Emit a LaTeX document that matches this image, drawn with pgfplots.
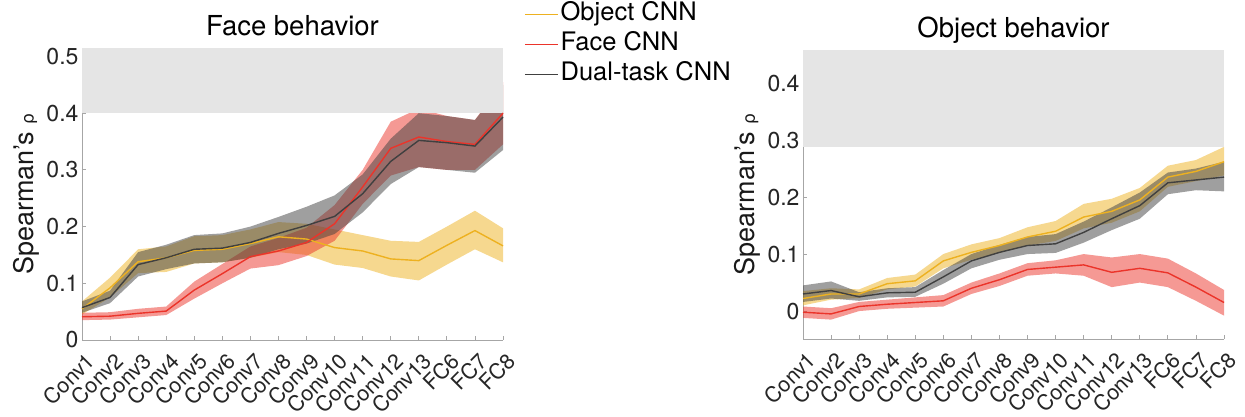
\documentclass[border=0pt]{standalone}
\usepackage{pgfplots}
\pgfplotsset{compat=1.18}
\usepackage{pgfplotstable}
\usepgfplotslibrary{fillbetween}
\usepackage{fontspec}
\setmainfont{TeX Gyre Heros}
\newfontfamily\dejavu{DejaVu Sans}

\definecolor{cObj}{RGB}{237,177,32}
\definecolor{cFace}{RGB}{235,52,42}
\definecolor{cDual}{RGB}{64,64,64}
\definecolor{cBand}{RGB}{229,229,229}

% x = layer index (Conv1 ... FC8); mean, lower and upper bound of each model
\pgfplotstableread{
x  om    olo   ohi   fm    flo   fhi   dm    dlo   dhi
0  0.055 0.045 0.068 0.041 0.035 0.048 0.057 0.048 0.068
1  0.092 0.075 0.110 0.042 0.036 0.049 0.075 0.065 0.087
2  0.138 0.118 0.160 0.047 0.040 0.055 0.133 0.112 0.155
3  0.145 0.120 0.165 0.051 0.044 0.059 0.145 0.125 0.168
4  0.158 0.135 0.183 0.088 0.073 0.103 0.160 0.135 0.185
5  0.160 0.137 0.185 0.117 0.100 0.134 0.162 0.137 0.188
6  0.170 0.145 0.195 0.147 0.126 0.165 0.172 0.145 0.200
7  0.182 0.155 0.208 0.157 0.132 0.180 0.188 0.160 0.217
8  0.178 0.150 0.205 0.172 0.148 0.198 0.202 0.170 0.235
9  0.163 0.133 0.195 0.205 0.175 0.238 0.218 0.187 0.255
10 0.157 0.127 0.185 0.270 0.240 0.300 0.258 0.225 0.292
11 0.143 0.112 0.175 0.338 0.290 0.385 0.315 0.275 0.355
12 0.140 0.105 0.173 0.358 0.305 0.408 0.352 0.305 0.400
13 0.167 0.133 0.200 0.350 0.300 0.395 0.348 0.300 0.395
14 0.193 0.160 0.228 0.345 0.300 0.388 0.342 0.295 0.388
15 0.166 0.137 0.197 0.400 0.345 0.455 0.393 0.335 0.450
}\facetab

\pgfplotstableread{
x  om    olo   ohi   fm     flo    fhi   dm    dlo   dhi
0  0.022 0.010 0.035 -0.002 -0.012 0.008 0.030 0.016 0.045
1  0.030 0.020 0.040 -0.005 -0.015 0.005 0.036 0.022 0.052
2  0.030 0.023 0.038 0.008  0.000  0.016 0.025 0.018 0.033
3  0.048 0.038 0.058 0.012  0.004  0.020 0.032 0.024 0.040
4  0.053 0.043 0.064 0.015  0.006  0.024 0.033 0.025 0.042
5  0.088 0.075 0.100 0.018  0.008  0.028 0.060 0.048 0.072
6  0.103 0.090 0.117 0.040  0.030  0.050 0.088 0.075 0.100
7  0.115 0.102 0.128 0.055  0.044  0.066 0.103 0.090 0.116
8  0.130 0.115 0.147 0.073  0.062  0.084 0.115 0.100 0.130
9  0.140 0.123 0.158 0.077  0.066  0.089 0.118 0.102 0.135
10 0.165 0.145 0.188 0.081  0.062  0.100 0.138 0.120 0.157
11 0.175 0.155 0.197 0.068  0.042  0.094 0.162 0.142 0.182
12 0.195 0.175 0.216 0.075  0.050  0.100 0.185 0.162 0.208
13 0.235 0.218 0.255 0.067  0.042  0.092 0.225 0.205 0.243
14 0.245 0.228 0.265 0.042  0.018  0.066 0.230 0.212 0.250
15 0.262 0.238 0.288 0.015  -0.008 0.037 0.235 0.210 0.262
}\objtab

% shaded band + mean line
\newcommand{\series}[5]{%
  \addplot[draw=none, forget plot, name path=#3] table[x=x, y=#3] {#1};
  \addplot[draw=none, forget plot, name path=#4] table[x=x, y=#4] {#1};
  \addplot[fill=#5, fill opacity=0.5, draw=none, forget plot] fill between[of=#3 and #4];
  \addplot[draw=#5, line width=1.4pt, forget plot] table[x=x, y=#2] {#1};
}

\pgfplotsset{
  panel/.style={
    scale only axis, width=421pt,
    xmin=0, xmax=15,
    axis x line*=bottom, axis y line*=left,
    axis line style={draw=black!35, line width=0.8pt},
    tick style={draw=black!35, line width=0.8pt},
    tick align=inside, major tick length=4pt,
    xtick={0,...,15},
    xticklabels={Conv1,Conv2,Conv3,Conv4,Conv5,Conv6,Conv7,Conv8,Conv9,Conv10,Conv11,Conv12,Conv13,FC6,FC7,FC8},
    xticklabel style={xshift=9pt, yshift=-17pt, rotate=45, anchor=east, inner sep=0pt,
      font=\fontsize{21.5}{21.5}\selectfont, text=black!85},
    yticklabel style={font=\fontsize{23}{23}\selectfont, text=black!85,
      /pgf/number format/fixed, /pgf/number format/precision=1},
    /pgf/number format/assume math mode=true,
    ylabel={Spearman's {\dejavu\fontsize{17}{17}\selectfont ρ}},
    ylabel style={font=\fontsize{27}{27}\selectfont, text=black!90},
    title style={font=\fontsize{27.5}{27.5}\selectfont, anchor=base, at={(0.5,1)}, yshift=6pt},
    clip=false,
  }
}

\begin{document}
\begin{tikzpicture}

\begin{axis}[panel,
  at={(82pt,77pt)}, anchor=south west, height=292pt,
  ymin=0, ymax=0.515,
  ytick={0,0.1,0.2,0.3,0.4,0.5},
  title={Face behavior},
  legend style={at={(rel axis cs:1.05,1.165)}, anchor=north west, draw=none, fill=none,
    inner sep=0pt, row sep=1.5pt,
    nodes={font=\fontsize{25.5}{25.5}\selectfont, text height=18.5pt, text depth=6pt, inner sep=2pt}},
  legend cell align=left,
  legend image code/.code={\draw[#1] (0pt,0pt) -- (33pt,0pt);},
]
\addlegendimage{draw=cObj, line width=1.4pt}
\addlegendentry{Object CNN}
\addlegendimage{draw=cFace, line width=1.4pt}
\addlegendentry{Face CNN}
\addlegendimage{draw=cDual, line width=1.4pt}
\addlegendentry{Dual-task CNN}
\addplot[fill=cBand, draw=none, forget plot] coordinates {(0,0.4) (15,0.4) (15,0.515) (0,0.515)};
\series{\facetab}{om}{olo}{ohi}{cObj}
\series{\facetab}{fm}{flo}{fhi}{cFace}
\series{\facetab}{dm}{dlo}{dhi}{cDual}
\end{axis}

\begin{axis}[panel,
  at={(803pt,78pt)}, anchor=south west, height=289pt,
  ymin=-0.049, ymax=0.458,
  ytick={0,0.1,0.2,0.3,0.4},
  title={Object behavior},
]
\addplot[fill=cBand, draw=none, forget plot] coordinates {(0,0.288) (15,0.288) (15,0.458) (0,0.458)};
\series{\objtab}{om}{olo}{ohi}{cObj}
\series{\objtab}{fm}{flo}{fhi}{cFace}
\series{\objtab}{dm}{dlo}{dhi}{cDual}
\end{axis}

\pgfresetboundingbox
\path (0,0) rectangle (1245pt,417pt);
\end{tikzpicture}
\end{document}
